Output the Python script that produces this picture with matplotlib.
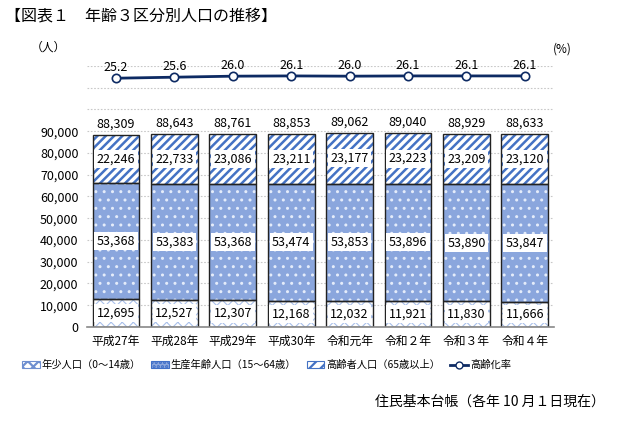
import numpy as np
import matplotlib.pyplot as plt
from matplotlib.patches import Patch
from matplotlib.lines import Line2D

plt.rcParams['font.family'] = ['Noto Sans CJK JP', 'DejaVu Sans']

years = ['平成27年', '平成28年', '平成29年', '平成30年', '令和元年', '令和２年', '令和３年', '令和４年']
young = [12695, 12527, 12307, 12168, 12032, 11921, 11830, 11666]
working = [53368, 53383, 53368, 53474, 53853, 53896, 53890, 53847]
old = [22246, 22733, 23086, 23211, 23177, 23223, 23209, 23120]
total = [88309, 88643, 88761, 88853, 89062, 89040, 88929, 88633]
rate = [25.2, 25.6, 26.0, 26.1, 26.0, 26.1, 26.1, 26.1]

x = np.arange(len(years))
young = np.array(young)
working = np.array(working)
old = np.array(old)

fig = plt.figure(figsize=(6.17, 4.23), dpi=100)
ax = fig.add_axes([0.1407, 0.227, 0.7573, 0.617])

w = 0.8
# fills with hatch (hatch colour comes from edgecolor)
plt.rcParams['hatch.linewidth'] = 0.8
ax.bar(x, young, w, color='white', edgecolor='#a9c0ea', hatch='xxx', linewidth=0, zorder=2)
plt.rcParams['hatch.linewidth'] = 1.0
ax.bar(x, working, w, bottom=young, color='#8aa6dd', edgecolor='#e4ecfa', hatch='..', linewidth=0, zorder=2)
plt.rcParams['hatch.linewidth'] = 1.8
ax.bar(x, old, w, bottom=young + working, color='white', edgecolor='#4472c4', hatch='////', linewidth=0, zorder=2)
# black outlines
for bottom, h in [(0, young), (young, working), (young + working, old)]:
    ax.bar(x, h, w, bottom=bottom, color='none', edgecolor='#222222', linewidth=1.0, zorder=3)

box = dict(boxstyle='square,pad=0.2', fc='white', ec='none')
for i in x:
    ax.text(i, young[i] / 2, f'{young[i]:,}', ha='center', va='center', fontsize=9, bbox=box, zorder=4)
    ax.text(i, young[i] + working[i] / 2, f'{working[i]:,}', ha='center', va='center', fontsize=9, bbox=box, zorder=4)
    ax.text(i, young[i] + working[i] + old[i] / 2, f'{old[i]:,}', ha='center', va='center', fontsize=9, bbox=box, zorder=4)
    ax.text(i, total[i] + 2000, f'{total[i]:,}', ha='center', va='bottom', fontsize=9, zorder=4)

ax.set_xlim(-0.5, len(years) - 0.5)
ax.set_ylim(0, 120000)
ax.set_yticks(np.arange(0, 130000, 10000))
ax.set_yticklabels([f'{v:,}' if v <= 90000 else '' for v in range(0, 130000, 10000)], fontsize=9)
ax.set_xticks(x)
ax.set_xticklabels(years, fontsize=8.5)
ax.tick_params(length=0, pad=6)
ax.grid(axis='y', color='#c8c8c8', linestyle=(0, (1.5, 1.5)), linewidth=0.8, zorder=0)
for s in ['top', 'right', 'left']:
    ax.spines[s].set_visible(False)
ax.spines['bottom'].set_color('#888888')
ax.spines['bottom'].set_linewidth(1.2)
ax.spines['bottom'].set_zorder(5)

ax2 = ax.twinx()
ax2.plot(x, rate, color='#0d2a63', linewidth=2, marker='o', markersize=6,
         markerfacecolor='white', markeredgecolor='#0d2a63', markeredgewidth=1.2, zorder=5)
for i in x:
    ax2.text(i, rate[i] + 1.6, f'{rate[i]:.1f}', ha='center', va='bottom', fontsize=9)
ax2.set_ylim(-72.5, 30)
ax2.set_yticks([])
for s in ['top', 'right', 'left', 'bottom']:
    ax2.spines[s].set_visible(False)

fig.text(0.008, 0.962, '【図表１　年齢３区分別人口の推移】', fontsize=11.5, va='center', ha='left')
fig.text(0.078, 0.888, '（人）', fontsize=8.5, va='center', ha='center')
fig.text(0.912, 0.885, '(%)', fontsize=8.5, va='center', ha='center')
fig.text(0.981, 0.05, '住民基本台帳（各年 10 月１日現在）', fontsize=10, va='center', ha='right')

plt.rcParams['hatch.linewidth'] = 0.8
h1 = Patch(facecolor='white', edgecolor='#6f8fd0', hatch='xxx', linewidth=0.8)
h2 = Patch(facecolor='#8aa6dd', edgecolor='#3f6fc8', hatch='....', linewidth=0.8)
plt.rcParams['hatch.linewidth'] = 1.6
h3 = Patch(facecolor='white', edgecolor='#4472c4', hatch='///', linewidth=0.8)
h4 = Line2D([0], [0], color='#0d2a63', linewidth=2, marker='o', markersize=5,
            markerfacecolor='white', markeredgecolor='#0d2a63')
labels = ['年少人口（0〜14歳）', '生産年齢人口（15〜64歳）', '高齢者人口（65歳以上）', '高齢化率']
fig.legend([h1, h2, h3, h4], labels, loc='center', bbox_to_anchor=(0.432, 0.137), ncol=4, frameon=False,
           fontsize=7.4, handlelength=1.7, handleheight=0.75, handletextpad=0.2, columnspacing=1.0)

fig.savefig('out.png', dpi=100)
